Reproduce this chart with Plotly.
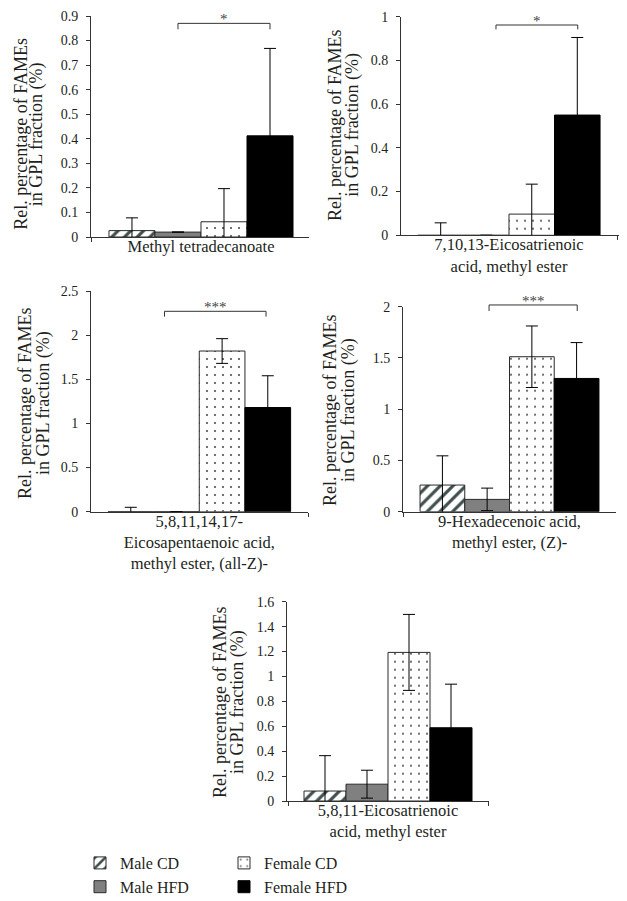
import plotly.graph_objects as go

# ---------------- data ----------------
groups = ["Male CD", "Male HFD", "Female CD", "Female HFD"]
compounds = [
    "Methyl tetradecanoate",
    "7,10,13-Eicosatrienoic<br>acid, methyl ester",
    "5,8,11,14,17-<br>Eicosapentaenoic acid,<br>methyl ester, (all-Z)-",
    "9-Hexadecenoic acid,<br>methyl ester, (Z)-",
    "5,8,11-Eicosatrienoic<br>acid, methyl ester",
]
male_cd_mean = [0.026, 0.0, 0.0, 0.26, 0.08]
male_cd_err = [0.052, 0.057, 0.05, 0.285, 0.284]
male_hfd_mean = [0.02, 0.0, 0.0, 0.12, 0.135]
male_hfd_err = [0.0, 0.0, 0.0, 0.11, 0.112]
female_cd_mean = [0.062, 0.097, 1.82, 1.512, 1.193]
female_cd_err = [0.135, 0.137, 0.14, 0.30, 0.305]
female_hfd_mean = [0.412, 0.55, 1.18, 1.30, 0.588]
female_hfd_err = [0.356, 0.355, 0.36, 0.35, 0.35]

y_max = [0.9, 1.0, 2.5, 2.0, 1.6]
y_dtick = [0.1, 0.2, 0.5, 0.5, 0.2]

y_title_lines = ["Rel. percentage of FAMEs", "in GPL fraction (%)"]

# significance brackets
sig_panel = [0, 1, 2, 3]
sig_x0 = [-0.105, -0.06, -0.16, -0.096]
sig_x1 = [0.315, 0.317, 0.307, 0.318]
sig_y = [0.870, 0.962, 2.27, 2.017]
sig_drop = [0.024, 0.020, 0.06, 0.059]
sig_label = ["*", "*", "***", "***"]

# ---------------- layout geometry (screen pixels) ----------------
OFF = 8                      # page body margin of the browser
SW, SH = 627, 901
W, H = SW - OFF, SH - OFF


def px_x(x):
    return (x - OFF) / W


def px_y(y):
    return 1 - (y - OFF) / H


x_px = [(91, 309), (401, 625), (91, 308), (403, 616), (287, 489)]
y_px = [(16, 237), (16.7, 235.3), (291, 511.7), (306.7, 511.7), (601.7, 801)]
x_ranges = [[-0.502, 0.493], [-0.498, 0.535], [-0.498, 0.5], [-0.5, 0.5], [-0.505, 0.505]]
title_x_px = [(20.7, 37.3), (335, 351.7), (25, 43), (330, 348), (220, 237)]
title_y_px = [134, 125, 403, 410, 702]

FONT = "Liberation Serif"
INK = "#231f20"
EDGE = "#2a2a2a"

series = [
    (groups[0], male_cd_mean, male_cd_err,
     dict(color="white", line=dict(color=EDGE, width=1),
          pattern=dict(shape="/", fgcolor="#3f4d4d", bgcolor="white", size=9, solidity=0.35)),
     "legend"),
    (groups[1], male_hfd_mean, male_hfd_err,
     dict(color="#808080", line=dict(color=EDGE, width=1)), "legend"),
    (groups[2], female_cd_mean, female_cd_err,
     dict(color="white", line=dict(color=EDGE, width=1),
          pattern=dict(shape=".", fgcolor="#444", bgcolor="white", size=8, solidity=0.05)),
     "legend2"),
    (groups[3], female_hfd_mean, female_hfd_err,
     dict(color="black", line=dict(color="#000", width=1)), "legend2"),
]

fig = go.Figure()
for name, means, errs, marker, leg in series:
    for i in range(5):
        sfx = "" if i == 0 else str(i + 1)
        fig.add_trace(go.Bar(
            x=[compounds[i]], y=[means[i]], name=name,
            marker=marker, legendgroup=name, showlegend=(i == 0), legend=leg,
            error_y=dict(type="data", array=[errs[i]], visible=True,
                         color="#000", thickness=1, width=6),
            xaxis="x" + sfx, yaxis="y" + sfx,
        ))

layout = dict(
    template="none",
    width=W, height=H, margin=dict(l=0, r=0, t=0, b=0, pad=0, autoexpand=False),
    paper_bgcolor="white", plot_bgcolor="white",
    barmode="group", bargap=0.16, bargroupgap=0,
    font=dict(family=FONT, size=14, color=INK),
    legend=dict(x=px_x(80), y=px_y(846), xanchor="left", yanchor="top",
                font=dict(family=FONT, size=16, color=INK), bgcolor="rgba(0,0,0,0)",
                tracegroupgap=0, borderwidth=0),
    legend2=dict(x=px_x(224), y=px_y(846), xanchor="left", yanchor="top",
                 font=dict(family=FONT, size=16, color=INK), bgcolor="rgba(0,0,0,0)",
                 tracegroupgap=0, borderwidth=0),
)

for i in range(5):
    sfx = "" if i == 0 else str(i + 1)
    xl, xr = x_px[i]
    yt, yb = y_px[i]
    layout["xaxis" + sfx] = dict(
        domain=[px_x(xl), px_x(xr)], anchor="y" + sfx, type="category",
        range=x_ranges[i], showline=True, linecolor="#333", linewidth=1,
        ticks="outside", tickson="boundaries", ticklen=4, tickcolor="#333",
        showgrid=False, zeroline=False, fixedrange=True, automargin=False,
        ticklabelstandoff=-6,
        tickfont=dict(family=FONT, size=16.5, color=INK),
    )
    layout["yaxis" + sfx] = dict(
        domain=[px_y(yb), px_y(yt)], anchor="x" + sfx,
        range=[0, y_max[i]], dtick=y_dtick[i], tick0=0,
        showline=True, linecolor="#333", linewidth=1,
        ticks="outside", ticklen=4, tickcolor="#333",
        showgrid=False, zeroline=False, automargin=False,
        ticklabelstandoff=5,
        tickfont=dict(family=FONT, size=14, color=INK),
    )

fig.update_layout(**layout)

# y-axis titles (two lines each, tight line spacing as in the reference)
for i in range(5):
    for j, line in enumerate(y_title_lines):
        fig.add_annotation(x=px_x(title_x_px[i][j]), y=px_y(title_y_px[i]),
                           xref="paper", yref="paper", text=line, textangle=-90,
                           showarrow=False, xanchor="center", yanchor="middle",
                           font=dict(family=FONT, size=18, color=INK))

for k, p in enumerate(sig_panel):
    sfx = "" if p == 0 else str(p + 1)
    top = sig_y[k] / y_max[p]
    bot = (sig_y[k] - sig_drop[k]) / y_max[p]
    fig.add_shape(type="path",
                  path=f"M {sig_x0[k]} {bot} L {sig_x0[k]} {top} L {sig_x1[k]} {top} L {sig_x1[k]} {bot}",
                  xref="x" + sfx, yref="y" + sfx + " domain",
                  line=dict(color="#333", width=1))
    fig.add_annotation(x=(sig_x0[k] + sig_x1[k]) / 2, y=top, xref="x" + sfx,
                       yref="y" + sfx + " domain", text=sig_label[k], showarrow=False,
                       yanchor="bottom", yshift=-6,
                       font=dict(family=FONT, size=15, color="#444"))

fig.write_html("out.html")
